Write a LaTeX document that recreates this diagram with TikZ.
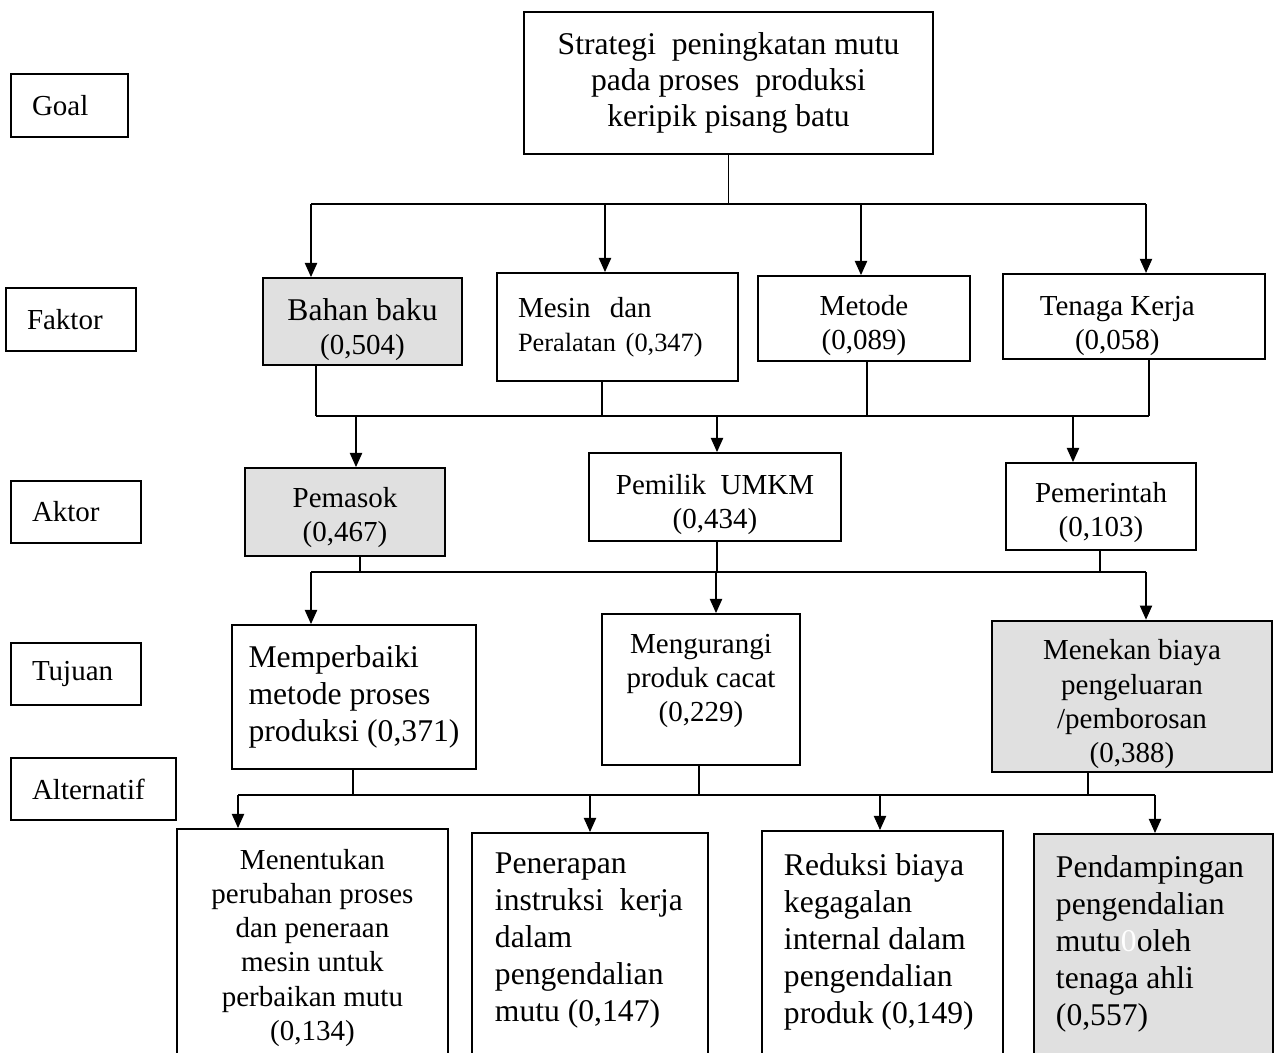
\documentclass[tikz,border=0pt]{standalone}
\usepackage{fontspec}
\setmainfont{Liberation Serif}
\usetikzlibrary{arrows.meta}
\newcommand\ukrkecil{\fontsize{16.5}{19.5}\selectfont}
\newcommand\ukrbesar{\fontsize{18}{21}\selectfont}
\newcommand\turun[1]{\rule{0pt}{#1}}
\newcommand\naik[1]{\rule[-#1]{0pt}{#1}}
\tikzset{
  kotak/.style={draw, line width=1.1pt, inner sep=2pt, align=center, font=\ukrkecil},
  arsir/.style={kotak, fill=black!12},
  tingkat/.style={draw, line width=0.6pt, inner xsep=0.42cm, align=left, font=\ukrkecil},
  uk/.style 2 args={minimum width=#1*0.02cm, minimum height=#2*0.02cm},
  garis/.style={line width=0.6pt},
  panah/.style={line width=0.6pt, -{Triangle[length=8pt,width=7pt]}},
}
\begin{document}
\begin{tikzpicture}[x=0.02cm, y=-0.02cm]
\useasboundingbox (0,0) rectangle (1274,1052);
\clip (0,0) rectangle (1274,1052);

% tingkat hirarki
\node[tingkat, text width=1.5cm, minimum height=1.26cm] (lgoal) at (69.5,105.5) {Goal};
\node[tingkat, text width=1.76cm, minimum height=1.26cm] (lfaktor) at (71,319.5) {Faktor};
\node[tingkat, text width=1.76cm, minimum height=1.24cm] (laktor) at (76,512) {Aktor};
\node[tingkat, text width=1.76cm, minimum height=1.24cm] (ltujuan) at (76,674) {Tujuan};
\node[tingkat, text width=2.46cm, minimum height=1.24cm] (lalt) at (93.5,789) {Alternatif};

% goal
\node[kotak, uk={409}{142}, font=\fontsize{18}{20.5}\selectfont] (goal) at (728.5,83)
  {Strategi\ \ peningkatan mutu\\pada proses\ \ produksi\\keripik pisang batu};

% faktor
\node[arsir, uk={199}{87}] (bahan) at (362.5,321.5) {{\ukrbesar\turun{21.4pt}Bahan baku}\\(0,504)};
\node[kotak, uk={241}{108}, text width=3.98cm, inner xsep=0.42cm, align=left] (mesin) at (617.5,327)
  {Mesin\ \ dan\\{\fontsize{15}{18}\selectfont Peralatan (0,347)}};
\node[kotak, uk={212}{85}] (metode) at (864,318.5) {\turun{19.2pt}Metode\\(0,089)};
\node[kotak, uk={262}{81}] (tenaga) at (1134,316.5)
  {\turun{21.5pt}Tenaga Kerja\hspace*{19pt}\\(0,058)\hspace*{19pt}};

% aktor
\node[arsir, uk={200}{88}] (pemasok) at (345,512) {\turun{18.1pt}Pemasok\\(0,467)};
\node[kotak, uk={252}{88}] (pemilik) at (715,497) {\turun{20.4pt}Pemilik\ \ UMKM\\(0,434)};
\node[kotak, uk={190}{87}] (pemerintah) at (1101,506.5) {\turun{18.1pt}Pemerintah\\(0,103)};

% tujuan
\node[kotak, uk={244}{144}, align=left, font=\ukrbesar] (perbaiki) at (354,697)
  {Memperbaiki\\metode proses\\produksi (0,371)};
\node[kotak, uk={198}{151}] (kurangi) at (701,689.5) {Mengurangi\\produk cacat\\(0,229)\naik{13pt}};
\node[arsir, uk={280}{149}] (tekan) at (1132,696.5)
  {\turun{20.4pt}Menekan biaya\\pengeluaran\\/pemborosan\\(0,388)};

% alternatif
\node[kotak, anchor=north west, inner xsep=0.3cm, inner ysep=0.4cm] (tentukan) at (176,828)
  {\parbox[t][4.4cm][t]{4.82cm}{\centering\ukrkecil Menentukan\\perubahan proses\\dan peneraan\\mesin untuk\\perbaikan mutu\\(0,134)}};
\node[kotak, anchor=north west, inner xsep=0.46cm, inner ysep=0.4cm] (terap) at (471,832)
  {\parbox[t][4.4cm][t]{3.8cm}{\raggedright\ukrbesar Penerapan\\instruksi\ \ kerja\\dalam\\pengendalian\\mutu (0,147)}};
\node[kotak, anchor=north west, inner xsep=0.44cm, inner ysep=0.46cm] (reduksi) at (761,830)
  {\parbox[t][4.4cm][t]{3.94cm}{\raggedright\ukrbesar Reduksi biaya\\kegagalan\\internal dalam\\pengendalian\\produk (0,149)}};
\node[arsir, anchor=north west, inner xsep=0.44cm, inner ysep=0.44cm] (damping) at (1033,833)
  {\parbox[t][4.4cm][t]{3.9cm}{\raggedright\ukrbesar Pendampingan\\pengendalian\\mutu\textcolor{white}{0}oleh\\tenaga ahli\\(0,557)}};

% goal -> faktor
\foreach \x/\n in {311/bahan,605/mesin,861/metode,1146/tenaga}{
  \coordinate (t-\n) at (\x,204);
  \draw[panah] (t-\n) -- (t-\n |- \n.north);
}
\draw[garis] (t-bahan) -- (t-tenaga);
\draw[garis] (goal.south) -- (goal.south |- t-bahan);

% faktor -> aktor
\foreach \x/\n in {316/bahan,602/mesin,867/metode,1149/tenaga}{
  \coordinate (s-\n) at (\x,416);
  \draw[garis] (s-\n |- \n.south) -- (s-\n);
}
\draw[garis] (s-bahan) -- (s-tenaga);
\foreach \x/\n in {356/pemasok,717/pemilik,1073/pemerintah}{
  \coordinate (t-\n) at (\x,416);
  \draw[panah] (t-\n) -- (t-\n |- \n.north);
}

% aktor -> tujuan
\foreach \x/\n in {360/pemasok,717/pemilik,1100/pemerintah}{
  \coordinate (s-\n) at (\x,572);
  \draw[garis] (s-\n |- \n.south) -- (s-\n);
}
\foreach \x/\n in {311/perbaiki,716/kurangi,1146/tekan}{
  \coordinate (t-\n) at (\x,572);
  \draw[panah] (t-\n) -- (t-\n |- \n.north);
}
\draw[garis] (t-perbaiki) -- (t-tekan);

% tujuan -> alternatif
\foreach \x/\n in {353/perbaiki,699/kurangi,1088/tekan}{
  \coordinate (s-\n) at (\x,795);
  \draw[garis] (s-\n |- \n.south) -- (s-\n);
}
\foreach \x/\n in {238/tentukan,590/terap,880/reduksi,1155/damping}{
  \coordinate (t-\n) at (\x,795);
  \draw[panah] (t-\n) -- (t-\n |- \n.north);
}
\draw[garis] (t-tentukan) -- (t-damping);
\end{tikzpicture}
\end{document}
